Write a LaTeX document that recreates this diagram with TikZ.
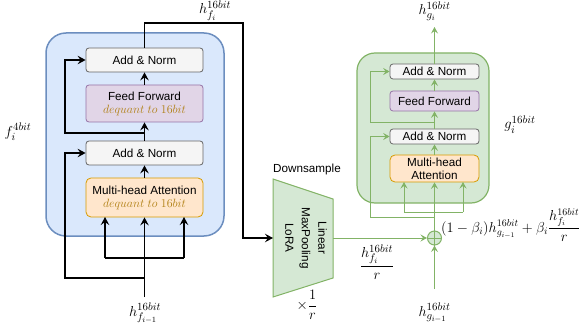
\documentclass[tikz,border=0pt]{standalone}
\usepackage{amsmath}
\usepackage{fontspec}
\newfontfamily\arialf{Liberation Sans}
\usetikzlibrary{arrows.meta}
\definecolor{bluefill}{HTML}{DAE8FC}
\definecolor{bluedraw}{HTML}{6C8EBF}
\definecolor{grayfill}{HTML}{F5F5F5}
\definecolor{graydraw}{HTML}{666666}
\definecolor{purpfill}{HTML}{E1D5E7}
\definecolor{purpdraw}{HTML}{9673A6}
\definecolor{orfill}{HTML}{FFE6CC}
\definecolor{ordraw}{HTML}{D79B00}
\definecolor{grfill}{HTML}{D5E8D4}
\definecolor{grdraw}{HTML}{82B366}
\definecolor{goldtxt}{HTML}{B07F12}
\begin{document}
\begin{tikzpicture}[x=1pt,y=-1pt,
  sans/.style={font=\arialf\fontsize{11.7}{14}\selectfont},
  blk/.style={draw, rounded corners=3pt, inner sep=0pt, align=center, line width=0.8pt, sans},
  lbox/.style={blk, minimum width=117pt},
  rbox/.style={blk, minimum width=89pt},
  addn/.style={fill=grayfill, draw=graydraw},
  ffn/.style={fill=purpfill, draw=purpdraw},
  mhan/.style={fill=orfill, draw=ordraw, rounded corners=5pt},
  mlab/.style={font=\fontsize{15.5}{17}\selectfont, inner sep=0pt},
  bk/.style={draw=black, line width=1.3pt, -{Stealth[length=8pt,width=8.5pt,inset=3pt]}},
  bkl/.style={draw=black, line width=1.3pt},
  gr/.style={draw=grdraw, line width=1pt, -{Stealth[length=6.5pt,width=7pt,inset=2.5pt]}},
  grl/.style={draw=grdraw, line width=1pt}
]
\useasboundingbox (0,0) rectangle (582,329);

% ---------- left (4-bit) block ----------
\node[draw=bluedraw, fill=bluefill, line width=1.5pt, rounded corners=20pt,
      minimum width=178pt, minimum height=203pt, inner sep=0pt] (lbig) at (135,134.5) {};
\node[lbox, addn, minimum height=24pt] (an1) at (144.5,60) {Add \& Norm};
\node[lbox, ffn, minimum height=37pt] (ff1) at (144.5,103.5) {Feed Forward\\[-1pt]\textcolor{goldtxt}{\fontsize{12}{14}\selectfont$dequant\ to\ 16bit$}};
\node[lbox, addn, minimum height=24pt] (an2) at (144.5,153) {Add \& Norm};
\node[lbox, mhan, minimum height=39pt] (mha1) at (144.5,197.5) {Multi-head Attention\\[-1pt]\textcolor{goldtxt}{\fontsize{12}{14}\selectfont$dequant\ to\ 16bit$}};

\node[mlab, anchor=base] (lfi) at (18,136) {$f_i^{4bit}$};
\node[mlab, anchor=base] (lhfi) at (215,14) {$h_{f_i}^{16bit}$};
\node[mlab, anchor=base] (lhin) at (145,316) {$h_{f_{i-1}}^{16bit}$};

\coordinate (inb) at (144.5,297);
\coordinate (br2) at (144.5,278);
\coordinate (rs1) at (144.5,133);

\draw[bk] (inb) -- (mha1.south);
\draw[bk] (105,258) -- (105,217);
\draw[bk] (184,258) -- (184,217);
\draw[bkl] (105,258) -- (184,258);
\draw[bk] (br2) -- (65,278) -- (65,153) -- (an2.west);
\draw[bk] (mha1.north) -- (an2.south);
\draw[bk] (an2.north) -- (ff1.south);
\draw[bk] (ff1.north) -- (an1.south);
\draw[bk] (rs1) -- (65,133) -- (65,60) -- (an1.west);

% ---------- downsample ----------
\draw[fill=grfill, draw=grdraw, line width=1pt] (273,179) -- (333,199) -- (333,278) -- (273,297) -- cycle;
\coordinate (dsw) at (273,238);
\coordinate (dse) at (333,238);
\node[sans, rotate=-90, align=center, font=\arialf\fontsize{11.7}{16.5}\selectfont] (dstxt) at (306,238) {Linear\\MaxPooling\\LoRA};
\node[sans, inner sep=0pt] (dslab) at (307,169) {Downsample};
\node[mlab] (dsr) at (307,305) {$\times\dfrac{1}{r}$};

\draw[bk] (an1.north) -- (144.5,23) -- (243,23) -- (243,238) -- (dsw);

% ---------- right (16-bit) block ----------
\node[draw=grdraw, fill=grfill, line width=1.2pt, rounded corners=18pt,
      minimum width=132pt, minimum height=150pt, inner sep=0pt] (rbig) at (423,128) {};
\node[rbox, addn, minimum height=15pt] (gan1) at (434.5,71.5) {Add \& Norm};
\node[rbox, ffn, minimum height=20pt] (gff) at (434.5,101) {Feed Forward};
\node[rbox, addn, minimum height=15pt] (gan2) at (434.5,136.5) {Add \& Norm};
\node[rbox, mhan, minimum height=27pt, font=\arialf\fontsize{11.7}{13}\selectfont] (gmha) at (434.5,168.5) {Multi-head\\Attention};

\node[draw=grdraw, fill=grfill, circle, minimum size=14pt, inner sep=0pt, line width=1pt] (plus) at (434.5,238) {};
\draw[grdraw, line width=1pt] (plus.north) -- (plus.south) (plus.west) -- (plus.east);

\node[mlab, anchor=base] (lgi) at (520,129) {$g_i^{16bit}$};
\node[mlab, anchor=base] (lhgi) at (434.5,15) {$h_{g_i}^{16bit}$};
\node[mlab, anchor=base] (lhgin) at (434.5,316) {$h_{g_{i-1}}^{16bit}$};
\node[mlab] (lfr) at (377,262) {$\dfrac{h_{f_i}^{16bit}}{r}$};
\node[mlab, anchor=base west, font=\fontsize{14.8}{17}\selectfont] (lform) at (441,232) {$(1-\beta_i)h_{g_{i-1}}^{16bit}+\beta_i\dfrac{h_{f_i}^{16bit}}{r}$};

\coordinate (gout) at (434.5,27);
\coordinate (gin) at (434.5,289);
\draw[gr] (gan1.north) -- (gout);
\draw[gr] (gff.north) -- (gan1.south);
\draw[gr] (gan2.north) -- (gff.south);
\draw[gr] (gmha.north) -- (gan2.south);
\draw[gr] (434.5,123) -- (370,123) -- (370,71.5) -- (gan1.west);
\draw[gr] (434.5,217) -- (370,217) -- (370,136.5) -- (gan2.west);
\draw[gr] (plus.north) -- (gmha.south);
\draw[grl] (404,212) -- (463,212);
\draw[gr] (404,212) -- (404,182);
\draw[gr] (463,212) -- (463,182);
\draw[gr] (gin) -- (plus.south);
\draw[gr] (dse) -- (plus.west);
\end{tikzpicture}
\end{document}
